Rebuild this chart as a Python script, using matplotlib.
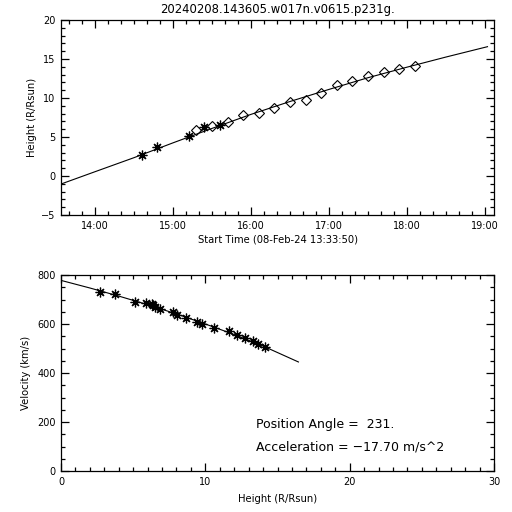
import datetime as dt
import matplotlib
matplotlib.use('Agg')
from matplotlib import pyplot as plt
import matplotlib.dates as mdates

title = '20240208.143605.w017n.v0615.p231g.'
day = '2024-02-08'
t_start = '13:33:50'
t_end = '19:07:00'

# measured points (time, height) and which telescope
times = ['14:36', '14:48', '15:12', '15:18', '15:24', '15:30', '15:36', '15:42',
         '15:54', '16:06', '16:18', '16:30', '16:42', '16:54', '17:06', '17:18',
         '17:30', '17:42', '17:54', '18:06']
heights = [2.70, 3.72, 5.13, 5.90, 6.28, 6.37, 6.54, 6.88, 7.78, 8.03, 8.67,
           9.44, 9.74, 10.60, 11.62, 12.18, 12.78, 13.29, 13.68, 14.10]
telescope = ['C2', 'C2', 'C2', 'C3', 'C2', 'C3', 'C2', 'C3', 'C3', 'C3', 'C3',
             'C3', 'C3', 'C3', 'C3', 'C3', 'C3', 'C3', 'C3', 'C3']
velocities = [731.7, 722.0, 690.8, 686.7, 681.0, 675.8, 669.0, 660.8, 647.0,
              635.0, 622.5, 609.0, 599.0, 585.7, 572.0, 555.6, 543.0, 532.4,
              520.0, 507.8]

# fit curves
fit_times = ['13:33:50', '14:00:00', '14:30:00', '15:00:00', '15:30:00',
             '16:00:00', '16:30:00', '17:00:00', '17:30:00', '18:00:00',
             '18:30:00', '19:02:00']
fit_heights = [-1.03, 0.55, 2.35, 4.25, 6.10, 7.90, 9.55, 11.10, 12.60, 13.95,
               15.25, 16.58]
fit_h = [0, 2, 4, 6, 8, 10, 12, 14, 16.45]
fit_v = [778, 747, 714, 679, 641, 600, 557, 510, 445]

pa_text = 'Position Angle =  231.'
acc_text = 'Acceleration = \u221217.70 m/s^2'


def to_dt(s):
    if len(s) == 5:
        s = s + ':00'
    return dt.datetime.strptime(day + ' ' + s, '%Y-%m-%d %H:%M:%S')


ast = (8, 2, 0)
fs_tick = 7
fs_lab = 7.2

fig = plt.figure(figsize=(5.12, 5.12), dpi=100)
fig.patch.set_facecolor('white')

ax1 = fig.add_axes([61 / 512, 1 - 215 / 512, 433 / 512, 195 / 512])
ax1.plot([to_dt(t) for t in fit_times], fit_heights, 'k-', lw=0.8)
for t, h, tel in zip(times, heights, telescope):
    if tel == 'C2':
        ax1.plot(to_dt(t), h, marker=ast, color='k', ms=7, mew=0.9)
    else:
        ax1.plot(to_dt(t), h, marker='D', mfc='none', mec='k', ms=5, mew=0.8)
ax1.set_xlim(to_dt(t_start), to_dt(t_end))
ax1.set_ylim(-5, 20)
ax1.set_yticks([-5, 0, 5, 10, 15, 20])
ax1.yaxis.set_minor_locator(matplotlib.ticker.MultipleLocator(1))
ax1.xaxis.set_major_locator(mdates.HourLocator())
ax1.xaxis.set_minor_locator(mdates.MinuteLocator(byminute=range(0, 60, 10)))
ax1.xaxis.set_major_formatter(mdates.DateFormatter('%H:%M'))
ax1.set_xlabel('Start Time (08-Feb-24 13:33:50)', fontsize=fs_lab, labelpad=2.5)
ax1.set_ylabel('Height (R/Rsun)', fontsize=fs_lab, labelpad=3)
ax1.set_title(title, fontsize=8.4, pad=5)

ax2 = fig.add_axes([61 / 512, 1 - 471 / 512, 433 / 512, 196 / 512])
ax2.plot(fit_h, fit_v, 'k-', lw=0.8)
ax2.plot(heights, velocities, linestyle='none', marker=ast, color='k', ms=7, mew=0.9)
ax2.set_xlim(0, 30)
ax2.set_ylim(0, 800)
ax2.set_xticks([0, 10, 20, 30])
ax2.set_yticks([0, 200, 400, 600, 800])
ax2.xaxis.set_minor_locator(matplotlib.ticker.MultipleLocator(1))
ax2.yaxis.set_minor_locator(matplotlib.ticker.MultipleLocator(50))
ax2.set_xlabel('Height (R/Rsun)', fontsize=fs_lab, labelpad=5)
ax2.set_ylabel('Velocity (km/s)', fontsize=fs_lab, labelpad=4)
ax2.text(13.5, 188, pa_text, fontsize=9, va='center', ha='left')
ax2.text(13.5, 99, acc_text, fontsize=9, va='center', ha='left')

for ax in (ax1, ax2):
    for sp in ax.spines.values():
        sp.set_linewidth(0.9)
    ax.tick_params(which='both', direction='in', top=True, right=True,
                   labelsize=fs_tick, width=0.9, pad=4)
    ax.tick_params(which='major', length=6)
    ax.tick_params(which='minor', length=3)

fig.savefig('out.png', dpi=100)
